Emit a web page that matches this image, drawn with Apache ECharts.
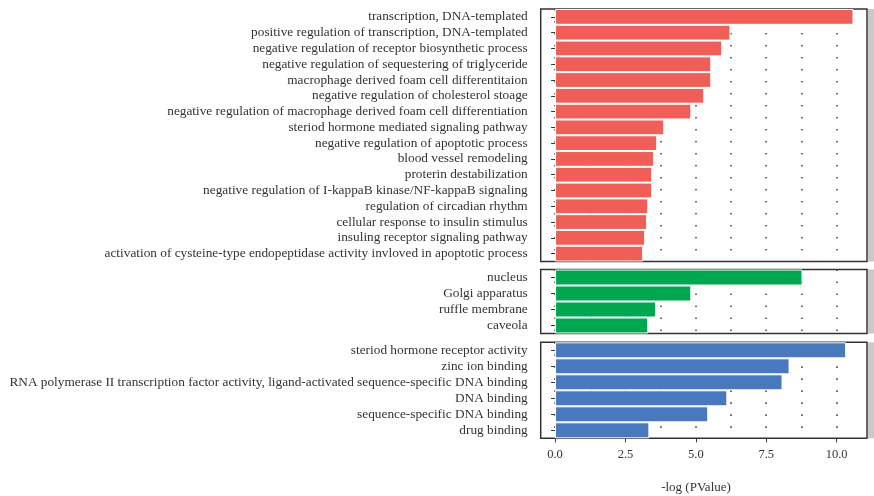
<!DOCTYPE html>
<html>
<head>
<meta charset="utf-8">
<script src="https://cdn.jsdelivr.net/npm/echarts@6/dist/echarts.min.js"></script>
<style>html,body{margin:0;padding:0;background:#fff;}#chart{width:874px;height:496px;}</style>
</head>
<body>
<div id="chart"></div>
<script>
// ---- data ----
const bpCategories = [
  'transcription, DNA-templated',
  'positive regulation of transcription, DNA-templated',
  'negative regulation of receptor biosynthetic process',
  'negative regulation of sequestering of triglyceride',
  'macrophage derived foam cell differentitaion',
  'negative regulation of cholesterol stoage',
  'negative regulation of macrophage derived foam cell differentiation',
  'steriod hormone mediated signaling pathway',
  'negative regulation of apoptotic process',
  'blood vessel remodeling',
  'proterin destabilization',
  'negative regulation of I-kappaB kinase/NF-kappaB signaling',
  'regulation of circadian rhythm',
  'cellular response to insulin stimulus',
  'insuling receptor signaling pathway',
  'activation of cysteine-type endopeptidase activity invloved in apoptotic process'
];
const bpValues = [10.60, 6.23, 5.94, 5.55, 5.55, 5.30, 4.84, 3.88, 3.63, 3.52, 3.45, 3.45, 3.31, 3.27, 3.20, 3.13];

const ccCategories = ['nucleus', 'Golgi apparatus', 'ruffle membrane', 'caveola'];
const ccValues = [8.79, 4.84, 3.59, 3.31];

const mfCategories = [
  'steriod hormone receptor activity',
  'zinc ion binding',
  'RNA polymerase II transcription factor activity, ligand-activated sequence-specific DNA binding',
  'DNA binding',
  'sequence-specific DNA binding',
  'drug binding'
];
const mfValues = [10.34, 8.33, 8.08, 6.12, 5.44, 3.35];

const xTickValues = [0, 2.5, 5, 7.5, 10];
const gridLineValues = [0, 1.25, 2.5, 3.75, 5, 6.25, 7.5, 8.75, 10];
const xAxisTitle = '-log (PValue)';

// ---- chart ----
const FONT = '"Liberation Serif", "Times New Roman", serif';
const panelColors = ['#F05F57', '#00A74F', '#4A78BC'];
const panelData = [[bpCategories, bpValues], [ccCategories, ccValues], [mfCategories, mfValues]];
const gridBoxes = [
  {top: 9, height: 252.5},
  {top: 269.5, height: 64},
  {top: 342.3, height: 96}
];
const xMin = -0.51, xMax = 11.08;

const grids = gridBoxes.map(b => ({
  left: 540.7, right: 7, top: b.top, height: b.height,
  outerBoundsMode: 'none', containLabel: false,
  show: true, borderColor: '#333', borderWidth: 1.5, backgroundColor: '#fff'
}));

const xAxes = gridBoxes.map((b, i) => {
  const last = i === gridBoxes.length - 1;
  return {
    type: 'value', gridIndex: i, min: xMin, max: xMax,
    axisLine: {show: false},
    splitLine: {show: false},
    axisTick: {show: last, length: 4, lineStyle: {color: '#333', width: 1}, customValues: xTickValues},
    axisLabel: {show: last, margin: 10, color: '#333', fontFamily: FONT, fontSize: 12.5,
      customValues: xTickValues, formatter: v => v.toFixed(1)}
  };
});

const yAxes = panelData.map((d, i) => ({
  type: 'category', gridIndex: i, data: d[0], inverse: true,
  axisLine: {show: false},
  axisTick: {show: true, length: 4, alignWithLabel: true, lineStyle: {color: '#333', width: 1}},
  axisLabel: {margin: 13, color: '#333', fontFamily: FONT, fontSize: 13.3, interval: 0},
  splitLine: {show: false}
}));

const series = panelData.map((d, i) => ({
  type: 'bar', xAxisIndex: i, yAxisIndex: i, data: d[1],
  barCategoryGap: '0%', z: 2,
  itemStyle: {color: panelColors[i], borderColor: '#fff', borderWidth: 1},
  silent: true,
  markLine: {
    silent: true, symbol: 'none', z: 1,
    label: {show: false},
    lineStyle: {color: '#4a4a4a', width: 1.6, type: [1.6, 10.4]},
    data: gridLineValues.map(v => ({xAxis: v}))
  }
}));

const stripRects = gridBoxes.map(b => ({
  type: 'rect', shape: {x: 868, y: b.top, width: 8, height: b.height},
  style: {fill: '#c9c9c9'}, z: 10
}));

const chart = echarts.init(document.getElementById('chart'), null, {renderer: 'canvas'});
chart.setOption({
  animation: false,
  backgroundColor: '#fff',
  grid: grids,
  xAxis: xAxes,
  yAxis: yAxes,
  series: series,
  graphic: stripRects.concat([{
    type: 'text', x: 696, y: 488,
    style: {text: xAxisTitle, fill: '#333', font: '13px ' + FONT, textAlign: 'center', textVerticalAlign: 'middle'}
  }])
});
</script>
</body>
</html>
